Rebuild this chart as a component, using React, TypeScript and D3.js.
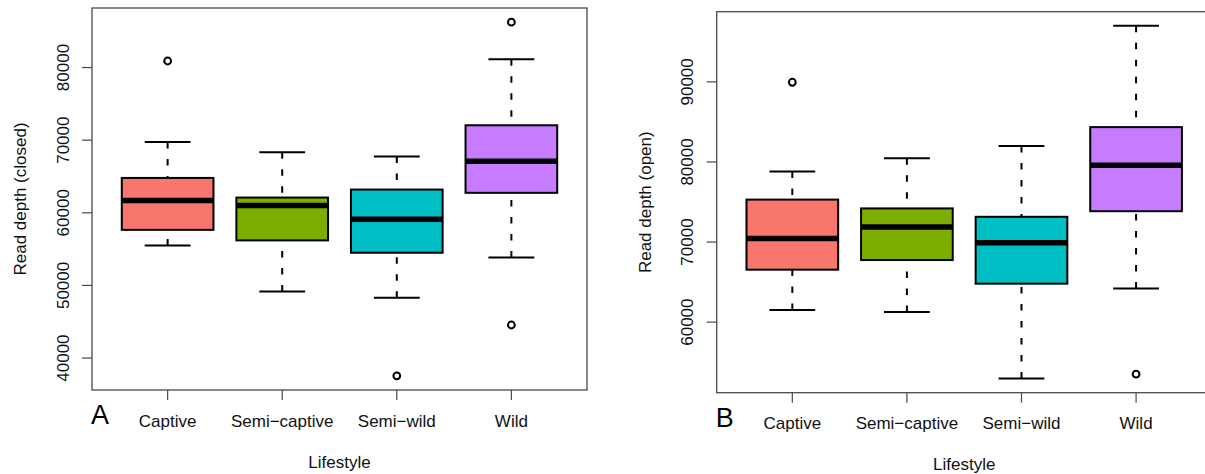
import React from "react";
import * as d3 from "d3";

// Lifestyle groups and their fill colours
const lifestyles = ["Captive", "Semi\u2212captive", "Semi\u2212wild", "Wild"];
const fills = ["#F8766D", "#7CAE00", "#00BFC4", "#C77CFF"];

// Panel A: read depth in closed regions (boxplot statistics)
const closedLowerWhisker = [55500, 49150, 48300, 53850];
const closedQ1 = [57650, 56200, 54500, 62750];
const closedMedian = [61700, 61000, 59100, 67100];
const closedQ3 = [64800, 62100, 63200, 72050];
const closedUpperWhisker = [69750, 68350, 67750, 81150];
const closedOutliers = [[80900], [], [37550], [86250, 44550]];
const closedTicks = [40000, 50000, 60000, 70000, 80000];

// Panel B: read depth in open regions (boxplot statistics)
const openLowerWhisker = [61500, 61250, 52950, 64200];
const openQ1 = [66550, 67750, 64800, 73850];
const openMedian = [70450, 71870, 69900, 79600];
const openQ3 = [75300, 74200, 73150, 84350];
const openUpperWhisker = [78800, 80450, 82000, 97000];
const openOutliers = [[89950], [], [], [53500]];
const openTicks = [60000, 70000, 80000, 90000];

const FONT = "'Liberation Sans', Arial, Helvetica, sans-serif";
const AXIS_GREY = "#4a4a4a";

type Stats = {
  lo: number[];
  q1: number[];
  med: number[];
  q3: number[];
  hi: number[];
  out: number[][];
};

type PanelProps = {
  x0: number;
  x1: number;
  y0: number;
  y1: number;
  stats: Stats;
  ticks: number[];
  yTitle: string;
  letter: string;
};

function Panel({ x0, x1, y0, y1, stats, ticks, yTitle, letter }: PanelProps) {
  const all = [
    ...stats.lo,
    ...stats.hi,
    ...stats.out.flat(),
  ];
  const [mn, mx] = d3.extent(all) as [number, number];
  const pad = (mx - mn) * 0.04;
  const y = d3.scaleLinear().domain([mn - pad, mx + pad]).range([y1, y0]);
  const x = d3
    .scaleLinear()
    .domain([0.5 - 0.16, lifestyles.length + 0.5 + 0.16])
    .range([x0, x1]);
  const unit = x(1) - x(0);
  const boxHalf = unit * 0.4;
  const stapleHalf = unit * 0.2;

  return (
    <g>
      {lifestyles.map((name, i) => {
        const cx = x(i + 1);
        return (
          <g key={name}>
            {/* whiskers, drawn from the whisker end toward the hinge */}
            <line x1={cx} x2={cx} y1={y(stats.lo[i])} y2={y(stats.q1[i])}
              stroke="#000" strokeWidth={2} strokeDasharray="6.5 10.5" />
            <line x1={cx} x2={cx} y1={y(stats.hi[i])} y2={y(stats.q3[i])}
              stroke="#000" strokeWidth={2} strokeDasharray="6.5 10.5" />
            {/* staples */}
            <line x1={cx - stapleHalf} x2={cx + stapleHalf} y1={y(stats.lo[i])} y2={y(stats.lo[i])}
              stroke="#000" strokeWidth={2} />
            <line x1={cx - stapleHalf} x2={cx + stapleHalf} y1={y(stats.hi[i])} y2={y(stats.hi[i])}
              stroke="#000" strokeWidth={2} />
            {/* box */}
            <rect x={cx - boxHalf} width={boxHalf * 2}
              y={y(stats.q3[i])} height={y(stats.q1[i]) - y(stats.q3[i])}
              fill={fills[i]} stroke="#000" strokeWidth={2} />
            {/* median */}
            <line x1={cx - boxHalf} x2={cx + boxHalf} y1={y(stats.med[i])} y2={y(stats.med[i])}
              stroke="#000" strokeWidth={5.5} />
            {/* outliers */}
            {stats.out[i].map((v, j) => (
              <circle key={j} cx={cx} cy={y(v)} r={3.4} fill="none" stroke="#000" strokeWidth={2} />
            ))}
          </g>
        );
      })}

      {/* frame */}
      <rect x={x0} y={y0} width={x1 - x0} height={y1 - y0} fill="none"
        stroke={AXIS_GREY} strokeWidth={1.3} />

      {/* y axis */}
      {ticks.map((t) => (
        <g key={t}>
          <line x1={x0 - 10} x2={x0} y1={y(t)} y2={y(t)} stroke={AXIS_GREY} strokeWidth={1.2} />
          <text transform={`translate(${x0 - 29.5},${y(t)}) rotate(-90)`} textAnchor="middle"
            dy="0.36em" fontFamily={FONT} fontSize={17} fill="#111">
            {t}
          </text>
        </g>
      ))}
      <text transform={`translate(${x0 - 71},${(y0 + y1) / 2}) rotate(-90)`} textAnchor="middle"
        dy="0.3em" fontFamily={FONT} fontSize={17} fill="#111">
        {yTitle}
      </text>

      {/* x axis */}
      {lifestyles.map((name, i) => (
        <g key={name}>
          <line x1={x(i + 1)} x2={x(i + 1)} y1={y1} y2={y1 + 10} stroke={AXIS_GREY} strokeWidth={1.2} />
          <text x={x(i + 1)} y={y1 + 36.5} textAnchor="middle" fontFamily={FONT} fontSize={17} fill="#111">
            {name}
          </text>
        </g>
      ))}
      <text x={(x0 + x1) / 2} y={y1 + 77.5} textAnchor="middle" fontFamily={FONT} fontSize={17} fill="#111">
        Lifestyle
      </text>

      {/* panel letter */}
      <text x={x0 - 1} y={y1 + 34} fontFamily={FONT} fontSize={27} fill="#000">
        {letter}
      </text>
    </g>
  );
}

export default function App() {
  const closed: Stats = {
    lo: closedLowerWhisker,
    q1: closedQ1,
    med: closedMedian,
    q3: closedQ3,
    hi: closedUpperWhisker,
    out: closedOutliers,
  };
  const open: Stats = {
    lo: openLowerWhisker,
    q1: openQ1,
    med: openMedian,
    q3: openQ3,
    hi: openUpperWhisker,
    out: openOutliers,
  };
  return (
    <svg width={1205} height={474} viewBox="0 0 1205 474"
      style={{ position: "absolute", left: 0, top: 0, background: "#fff" }}>
      <rect width={1205} height={474} fill="#fff" />
      <Panel x0={92} x1={587} y0={8} y1={390} stats={closed} ticks={closedTicks}
        yTitle="Read depth (closed)" letter="A" />
      <Panel x0={716.7} x1={1211.7} y0={11.7} y1={392.7} stats={open} ticks={openTicks}
        yTitle="Read depth (open)" letter="B" />
    </svg>
  );
}
